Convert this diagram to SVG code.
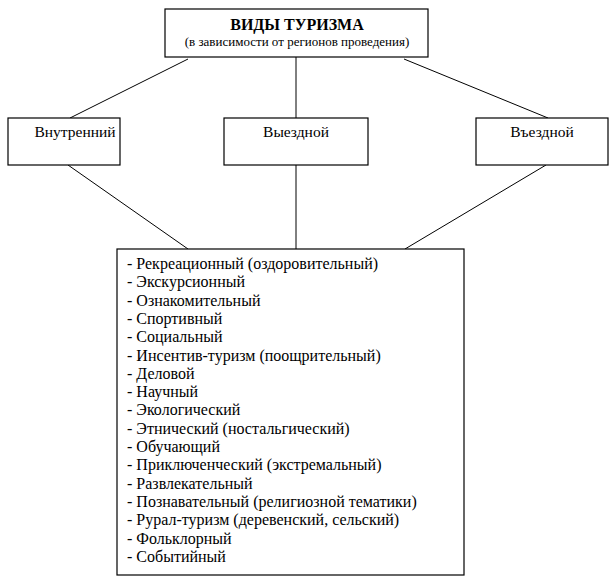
<svg xmlns="http://www.w3.org/2000/svg" width="616" height="584" viewBox="0 0 616 584">
<style>
.box{fill:#fff;stroke:#000;stroke-width:1.2}
.ln{stroke:#000;stroke-width:1;fill:none}
text, .t, .s, .m, .l{font-family:'Liberation Serif', serif !important;fill:#000}
.t{font-size:16px;font-weight:bold;text-anchor:middle}
.s{font-size:13px;text-anchor:middle}
.m{font-size:15.5px;text-anchor:middle}
.l{font-size:16px}
</style>
<rect width="616" height="584" fill="#fff"/>
<g id="connectors">
<line class="ln" x1="188" y1="59" x2="70" y2="118"/>
<line class="ln" x1="296" y1="57" x2="296" y2="118"/>
<line class="ln" x1="404" y1="59" x2="548" y2="118"/>
<line class="ln" x1="68" y1="165" x2="188" y2="249"/>
<line class="ln" x1="296" y1="165" x2="296" y2="249"/>
<line class="ln" x1="546" y1="165" x2="405" y2="249"/>
</g>
<g id="top">
<rect class="box" x="165" y="9" width="263" height="48"/>
<text class="t" x="297" y="30" font-family="Liberation Serif">ВИДЫ ТУРИЗМА</text>
<text class="s" x="297" y="46" font-family="Liberation Serif">(в зависимости от регионов проведения)</text>
</g>
<g id="vnutr">
<rect class="box" x="8" y="118" width="112" height="47"/>
<text class="m" x="75" y="137" font-family="Liberation Serif">Внутренний</text>
</g>
<g id="vyezd">
<rect class="box" x="224" y="118" width="144" height="47"/>
<text class="m" x="296" y="137" font-family="Liberation Serif">Выездной</text>
</g>
<g id="vezd">
<rect class="box" x="476" y="118" width="132" height="47"/>
<text class="m" x="542" y="137" font-family="Liberation Serif">Въездной</text>
</g>
<g id="list">
<rect class="box" x="117" y="249" width="347" height="326"/>
<text class="l" x="127" y="269" font-family="Liberation Serif">- Рекреационный (оздоровительный)</text>
<text class="l" x="127" y="287.3" font-family="Liberation Serif">- Экскурсионный</text>
<text class="l" x="127" y="305.6" font-family="Liberation Serif">- Ознакомительный</text>
<text class="l" x="127" y="323.9" font-family="Liberation Serif">- Спортивный</text>
<text class="l" x="127" y="342.2" font-family="Liberation Serif">- Социальный</text>
<text class="l" x="127" y="360.5" font-family="Liberation Serif">- Инсентив-туризм (поощрительный)</text>
<text class="l" x="127" y="378.8" font-family="Liberation Serif">- Деловой</text>
<text class="l" x="127" y="397.1" font-family="Liberation Serif">- Научный</text>
<text class="l" x="127" y="415.4" font-family="Liberation Serif">- Экологический</text>
<text class="l" x="127" y="433.7" font-family="Liberation Serif">- Этнический (ностальгический)</text>
<text class="l" x="127" y="452" font-family="Liberation Serif">- Обучающий</text>
<text class="l" x="127" y="470.3" font-family="Liberation Serif">- Приключенческий (экстремальный)</text>
<text class="l" x="127" y="488.6" font-family="Liberation Serif">- Развлекательный</text>
<text class="l" x="127" y="506.9" font-family="Liberation Serif">- Познавательный (религиозной тематики)</text>
<text class="l" x="127" y="525.2" font-family="Liberation Serif">- Рурал-туризм (деревенский, сельский)</text>
<text class="l" x="127" y="543.5" font-family="Liberation Serif">- Фольклорный</text>
<text class="l" x="127" y="561.8" font-family="Liberation Serif">- Событийный</text>
</g>
</svg>
